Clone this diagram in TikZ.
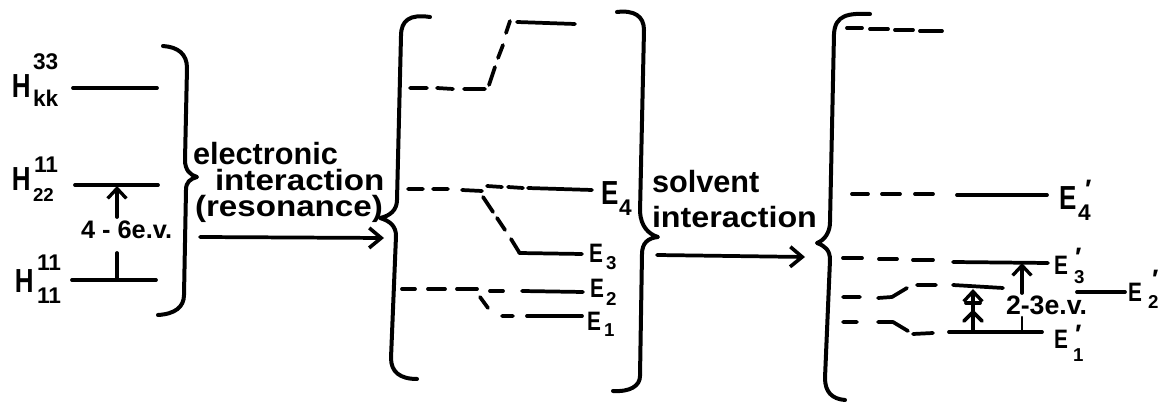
\documentclass[tikz,border=0pt]{standalone}
\usepackage{graphicx}
\usepackage{fontspec}
\setmainfont{Liberation Sans}
\usetikzlibrary{arrows.meta}
\newcommand{\narrow}[1]{\scalebox{.78}[1]{#1}}
\newcommand{\widen}[1]{\scalebox{1.13}[1]{#1}}
\tikzset{
  lvl/.style={line width=2.8pt,line cap=round,line join=round,black},
  brc/.style={line width=3pt,line cap=round,line join=round,black},
  gap/.style={lvl,-{Straight Barb[length=7.5pt,width=14pt,line width=2.5pt]}},
  biggap/.style={lvl,-{Straight Barb[length=9pt,width=15pt,line width=2.7pt]}},
  lab/.style={inner sep=0pt,outer sep=0pt,anchor=base west},
  txt/.style={lab,font=\fontsize{23}{25}\selectfont\bfseries},
  txtw/.style={lab,font=\fontsize{22}{24}\selectfont\bfseries},
  big/.style={lab,font=\fontsize{25}{26}\selectfont\bfseries},
  bigE/.style={lab,font=\fontsize{25}{26}\selectfont\bfseries},
  midE/.style={lab,font=\fontsize{20}{22}\selectfont\bfseries},
  mid/.style={lab,font=\fontsize{17}{18}\selectfont\bfseries},
  sm/.style={lab,font=\fontsize{14}{15}\selectfont\bfseries},
  primemark/.style={lab,font=\fontsize{20}{20}\selectfont\bfseries},
}
\begin{document}
\begin{tikzpicture}[x=0.75pt,y=-0.75pt]
\useasboundingbox (0,0) rectangle (1168,402);
\fill[white] (0,0) rectangle (1168,402);

% ---------- left column
\draw[lvl] (73,88) -- (157,88);
\draw[lvl] (75,185) -- (158,185);
\draw[lvl] (72,280) -- (156,280);
\coordinate (g1a) at (117,217);
\coordinate (g1b) at (117,186);
\coordinate (g1c) at (117,253);
\coordinate (g1d) at (117,280);
\draw[gap] (g1a) -- (g1b);
\draw[lvl] (g1c) -- (g1d);
\node[lab,font=\fontsize{19}{20}\selectfont\bfseries] (gap1) at (81,239) {4 - 6e.v.};

\node[big] (h33) at (12,98) {\narrow{H}};
\node[mid] (h33s) at (33,70) {33};
\node[mid] (h33k) at (33,107) {kk};
\node[big] (h22) at (12,191) {\narrow{H}};
\node[mid] (h22s) at (34,173) {11};
\node[sm] (h22k) at (33,202) {22};
\node[big] (h11) at (15,293) {\narrow{H}};
\node[mid] (h11s) at (37,271) {11};
\node[mid] (h11k) at (37,304) {11};

% brace 1
\draw[brc] (163,46) .. controls (178,47) and (187,54) .. (187,68)
  -- (185,160) .. controls (185,170) and (190,175) .. (197,177)
  .. controls (190,179) and (186,182) .. (186,190)
  -- (184,295) .. controls (184,307) and (175,314) .. (158,315);

\node[txt] (t1) at (193,165) {electronic};
\node[txtw] (t2) at (215,191) {\widen{interaction}};
\node[txtw] (t3) at (195,217) {\widen{(resonance)}};
\coordinate (a1s) at (200,237);
\coordinate (a1e) at (384,238);
\draw[biggap] (a1s) -- (a1e);

% brace 2
\draw[brc] (430,17) .. controls (410,14) and (401,20) .. (401,36)
  -- (397,200) .. controls (397,210) and (390,216) .. (380,218)
  .. controls (390,221) and (396,226) .. (396,236)
  -- (391,358) .. controls (391,372) and (400,379) .. (417,379);

% middle levels
\draw[lvl] (410,88)--(427,88) (437,88)--(453,89) (464,89)--(485,89);
\draw[lvl] (489,85)--(495,67) (498,58)--(503,45) (506,33)--(510,21);
\draw[lvl] (517,22)--(575,24);
\draw[lvl] (408,189)--(423,189) (433,189)--(448,189) (462,190)--(482,191)
           (487,186)--(502,187) (508,187)--(523,188);
\draw[lvl] (528,188)--(592,190);
\draw[lvl] (483,197)--(493,212) (497,218)--(505,230) (511,239)--(519,252);
\draw[lvl] (519,253)--(582,254);
\draw[lvl] (402,289)--(415,289) (428,289)--(445,289) (457,289)--(477,289) (490,291)--(503,291);
\draw[lvl] (522,291)--(583,292);
\draw[lvl] (480,297)--(488,308) (502,316)--(513,316);
\draw[lvl] (527,316)--(582,316);

\node[bigE] (e4) at (601,205) {\narrow{E}};
\node[mid] (e4s) at (619,216) {4};
\node[midE] (e3) at (589,263) {\narrow{E}};
\node[sm] (e3s) at (606,270) {3};
\node[midE] (e2) at (590,298) {\narrow{E}};
\node[sm] (e2s) at (606,306) {2};
\node[midE] (e1) at (587,331) {\narrow{E}};
\node[sm] (e1s) at (604,337) {1};

% brace 3
\draw[brc] (617,12) .. controls (634,10) and (644,16) .. (644,30)
  -- (640,212) .. controls (641,226) and (648,234) .. (658,237)
  .. controls (648,238) and (642,243) .. (642,254)
  -- (640,376) .. controls (640,386) and (630,392) .. (613,391);

\node[txt] (t4) at (652,193) {solvent};
\node[txtw] (t5) at (652,228) {\scalebox{1.1}[1]{interaction}};
\coordinate (a2s) at (657,255);
\coordinate (a2e) at (805,257);
\draw[biggap] (a2s) -- (a2e);

% brace 4
\draw[brc] (870,14) .. controls (848,13) and (835,15) .. (834,34)
  -- (830,222) .. controls (830,232) and (825,240) .. (817,243)
  .. controls (825,246) and (830,250) .. (830,260)
  -- (825,378) .. controls (825,392) and (832,399) .. (845,400);

% right levels
\draw[lvl] (847,28)--(862,28) (870,29)--(888,29) (895,30)--(913,30) (920,31)--(942,31);
\draw[lvl] (852,194)--(868,194) (882,194)--(900,194) (915,194)--(933,194);
\draw[lvl] (957,195)--(1047,195);
\draw[lvl] (843,258)--(862,258) (879,259)--(897,259) (913,260)--(933,260);
\draw[lvl] (953,262)--(1048,263);
\draw[lvl] (843,297)--(860,297) (878,298)--(892,297)--(907,288) (917,285)--(936,285);
\draw[lvl] (953,285)--(1003,288);
\draw[lvl] (1077,292)--(1125,292);
\draw[lvl] (843,322)--(857,322) (878,322)--(893,322)--(908,331) (913,334)--(933,333);
\draw[lvl] (949,332)--(1042,332);

\coordinate (g2a) at (973,332);
\coordinate (g2b) at (973,289);
\coordinate (g2c) at (973,312);
\draw[gap] (g2a) -- (g2b);
\draw[lvl] (964,321) -- (g2c) -- (982,321);
\draw[lvl] (966,303) -- (980,303);
\coordinate (g3a) at (1022,293);
\coordinate (g3b) at (1022,263);
\coordinate (g3c) at (1022,317);
\coordinate (g3d) at (1022,332);
\draw[gap] (g3a) -- (g3b);
\draw[lvl,line width=1.8pt] (g3c) -- (g3d);
\node[lab,font=\fontsize{20}{20}\selectfont\bfseries] (gap2) at (1006,315) {2-3e.v.};

\node[bigE] (ep4) at (1059,210) {\narrow{E}};
\node[primemark] (ep4m) at (1085,199) {′};
\node[mid] (ep4s) at (1078,221) {4};
\node[midE] (ep3) at (1054,275) {\narrow{E}};
\node[primemark] (ep3m) at (1075,267) {′};
\node[sm] (ep3s) at (1074,284) {3};
\node[midE] (ep2) at (1128,302) {\narrow{E}};
\node[primemark] (ep2m) at (1152,289) {′};
\node[sm] (ep2s) at (1148,309) {2};
\node[midE] (ep1) at (1054,349) {\narrow{E}};
\node[primemark] (ep1m) at (1075,344) {′};
\node[sm] (ep1s) at (1073,362) {1};
\end{tikzpicture}
\end{document}
